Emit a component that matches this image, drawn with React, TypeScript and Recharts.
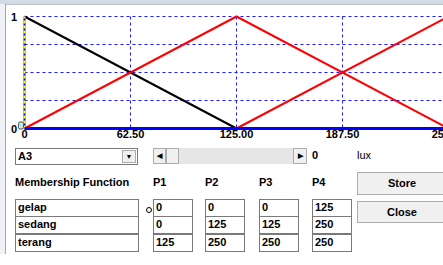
import React from 'react';
import { LineChart, Line, XAxis, YAxis, CartesianGrid } from 'recharts';

// membership functions (lux)
const names = ['gelap', 'sedang', 'terang'];
const p1 = [0, 0, 125];
const p2 = [0, 125, 250];
const p3 = [0, 125, 250];
const p4 = [125, 250, 250];
const xTicks = [0, 62.5, 125, 187.5, 250];
const yTicks = [0, 0.25, 0.5, 0.75, 1];
const headers = ['P1', 'P2', 'P3', 'P4'];
const colors = ['#000000', '#ff0000', '#ff0000'];
// left edge: blue axis with the selected set's vertical edge dashed yellow on top
const edge = [
  { x: 0, y: 0 },
  { x: 0, y: 1 },
];

const FONT = '"Liberation Sans", Arial, sans-serif';

// trapezoid corners, dropping the vertical edge at x = 0
function shape(i: number) {
  const pts = [
    { x: p1[i], y: 0 },
    { x: p2[i], y: 1 },
    { x: p3[i], y: 1 },
    { x: p4[i], y: 0 },
  ];
  return pts.filter((p, k) => {
    if (k === 0) return p.x !== pts[1].x;
    return !(p.x === pts[k - 1].x && p.y === pts[k - 1].y);
  });
}

const fmtX = (v: number) => (v === 0 ? '0' : v.toFixed(2));

function YTick(props: any) {
  const { y, payload } = props;
  if (payload.value !== 0 && payload.value !== 1) return null;
  return (
    <g>
      <text x={17} y={y + 4} textAnchor="end" fontSize={11} fontWeight="bold" fontFamily={FONT} fill="#000">
        {payload.value}
      </text>
      {payload.value === 0 && (
        <rect x={18.5} y={y - 6.5} width={5} height={7} rx={1.5} fill="#bfe8e8" stroke="#555" strokeWidth={1} />
      )}
    </g>
  );
}

const box: React.CSSProperties = {
  position: 'absolute',
  boxSizing: 'border-box',
  background: '#fff',
  border: '1px solid #7a7a7a',
  fontFamily: FONT,
  fontWeight: 'bold',
  fontSize: 11,
  lineHeight: '15px',
  paddingLeft: 2,
  color: '#000',
};

const label: React.CSSProperties = {
  position: 'absolute',
  fontFamily: FONT,
  fontWeight: 'bold',
  fontSize: 11,
  color: '#000',
  whiteSpace: 'nowrap',
};

const btn: React.CSSProperties = {
  position: 'absolute',
  boxSizing: 'border-box',
  background: '#f0f0f0',
  border: '1px solid #adadad',
  fontFamily: FONT,
  fontWeight: 'bold',
  fontSize: 11,
  textAlign: 'center',
  color: '#000',
};

const colX = [153, 205, 259, 312];
const rowY = [199, 216, 234];

export default function App() {
  return (
    <div style={{ position: 'relative', width: 443, height: 265, overflow: 'hidden', background: '#fff' }}>
      <style>{'body{margin:0;overflow:hidden}'}</style>
      {/* window frame */}
      <div style={{ position: 'absolute', left: 0, top: 0, width: 443, height: 4, background: '#d3dbe4' }} />
      <div style={{ position: 'absolute', left: 390, top: 4, width: 53, height: 1, background: '#8a8a8a' }} />
      <div style={{ position: 'absolute', left: 0, top: 4, width: 443, height: 1, background: '#b8c2cc' }} />
      <div style={{ position: 'absolute', left: 0, top: 4, width: 5, height: 250, background: '#eef1f5' }} />
      <div style={{ position: 'absolute', left: 5, top: 4, width: 1, height: 250, background: '#a8a8a8' }} />

      <div style={{ position: 'absolute', left: 0, top: 0 }}>
        <LineChart width={460} height={148} margin={{ top: 16.5, right: 11.5, bottom: 0, left: 0.5 }}>
          <CartesianGrid stroke="#1a1aff" strokeDasharray="3 3" horizontalValues={yTicks} verticalValues={xTicks} />
          <XAxis
            type="number"
            dataKey="x"
            domain={[0, 250]}
            ticks={xTicks}
            tickFormatter={fmtX}
            tickLine={false}
            tickSize={0}
            tickMargin={2}
            height={19.5}
            axisLine={{ stroke: '#0000ff', strokeWidth: 3 }}
            tick={{ fill: '#000', fontSize: 11, fontWeight: 'bold', fontFamily: FONT }}
            interval={0}
          />
          <YAxis
            type="number"
            domain={[0, 1]}
            ticks={yTicks}
            width={24}
            tickLine={false}
            axisLine={false}
            tick={<YTick />}
            interval={0}
          />
          {names.map((n, i) => (
            <Line
              key={n}
              data={shape(i)}
              dataKey="y"
              type="linear"
              stroke={colors[i]}
              strokeWidth={2}
              dot={false}
              isAnimationActive={false}
            />
          ))}
          <Line data={edge} dataKey="y" type="linear" stroke="#0000ff" strokeWidth={2} dot={false} isAnimationActive={false} />
          <Line
            data={edge}
            dataKey="y"
            type="linear"
            stroke="#ffff00"
            strokeWidth={2}
            strokeDasharray="3 2"
            dot={false}
            isAnimationActive={false}
          />
        </LineChart>
      </div>

      {/* combo box */}
      <div style={{ ...box, left: 15, top: 148, width: 123, height: 17 }}>A3</div>
      <div style={{ ...btn, left: 122, top: 150, width: 14, height: 13, fontSize: 7, lineHeight: '12px' }}>▼</div>

      {/* scrollbar */}
      <div style={{ position: 'absolute', left: 153, top: 148, width: 154, height: 16, background: '#e6e6e6' }} />
      <div style={{ ...btn, left: 153, top: 148, width: 13, height: 16, fontSize: 7, lineHeight: '14px' }}>◀</div>
      <div style={{ ...btn, left: 166, top: 148, width: 13, height: 16 }} />
      <div style={{ ...btn, left: 293, top: 148, width: 14, height: 16, fontSize: 7, lineHeight: '14px' }}>▶</div>
      <div style={{ ...label, left: 312, top: 149 }}>0</div>
      <div style={{ ...label, left: 357, top: 149, fontWeight: 'normal' }}>lux</div>

      <div style={{ ...label, left: 15, top: 176 }}>Membership Function</div>
      {headers.map((h, k) => (
        <div key={h} style={{ ...label, left: colX[k], top: 176 }}>{h}</div>
      ))}

      <div style={{ ...btn, left: 357, top: 172, width: 90, height: 23, lineHeight: '21px' }}>Store</div>
      <div style={{ ...btn, left: 357, top: 201, width: 90, height: 22, lineHeight: '20px' }}>Close</div>

      <div style={{ position: 'absolute', left: 146, top: 207, width: 4, height: 4, border: '1px solid #000', borderRadius: 3 }} />

      {names.map((n, r) => (
        <React.Fragment key={n}>
          <div style={{ ...box, left: 15, top: rowY[r], width: 124, height: 18 }}>{n}</div>
          {[p1, p2, p3, p4].map((p, k) => (
            <div key={k} style={{ ...box, left: colX[k], top: rowY[r], width: 40, height: 18 }}>{p[r]}</div>
          ))}
        </React.Fragment>
      ))}
    </div>
  );
}
